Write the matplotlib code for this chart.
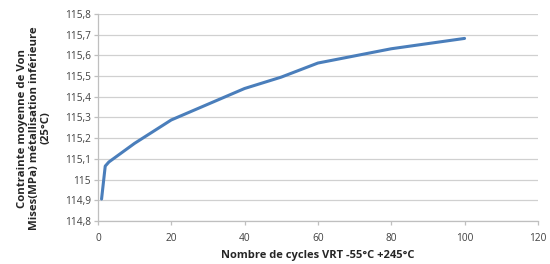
import matplotlib
matplotlib.use("Agg")
import matplotlib.pyplot as plt
from matplotlib.ticker import FuncFormatter, MultipleLocator

cycles = [1, 2, 3, 10, 20, 40, 50, 60, 80, 100]
stress = [114.906, 115.065, 115.085, 115.175, 115.288, 115.44, 115.495, 115.563, 115.632, 115.682]

x_label = "Nombre de cycles VRT -55°C +245°C"
y_label = "Contrainte moyenne de Von\nMises(MPa) métallisation inférieure\n(25°C)"

plt.rcParams['font.family'] = ['Open Sans', 'DejaVu Sans']

fig = plt.figure(figsize=(5.5, 2.64), dpi=100)
ax = fig.add_axes([0.178, 0.163, 0.8, 0.784])

ax.plot(cycles, stress, color='#4A7EBB', lw=2.2, solid_capstyle='round', zorder=3)

ax.set_xlim(0, 120)
ax.set_ylim(114.8, 115.8)
ax.xaxis.set_major_locator(MultipleLocator(20))
ax.yaxis.set_major_locator(MultipleLocator(0.1))

def yfmt(v, pos):
    s = f"{v:.1f}"
    if s.endswith(".0"):
        s = s[:-2]
    return s.replace(".", ",")
ax.yaxis.set_major_formatter(FuncFormatter(yfmt))

ax.grid(axis='y', color='#D0D0D0', lw=0.9)
ax.set_axisbelow(True)
for s in ['top', 'right']:
    ax.spines[s].set_visible(False)
for s in ['left', 'bottom']:
    ax.spines[s].set_color('#BFBFBF')
    ax.spines[s].set_linewidth(0.9)
ax.tick_params(axis='both', colors='#BFBFBF', labelcolor='#404040', labelsize=7.3, length=3, width=0.9)
ax.tick_params(axis='y', pad=2)
ax.tick_params(axis='x', pad=6)

ax.set_xlabel(x_label, fontsize=8, fontweight='bold', color='#262626', labelpad=4)
fig.text(0.062, 0.515, y_label, rotation=90, fontsize=8.2, fontweight='bold',
         color='#262626', ha='center', va='center', linespacing=1.1, multialignment='center')

fig.savefig("out.png", dpi=100)
